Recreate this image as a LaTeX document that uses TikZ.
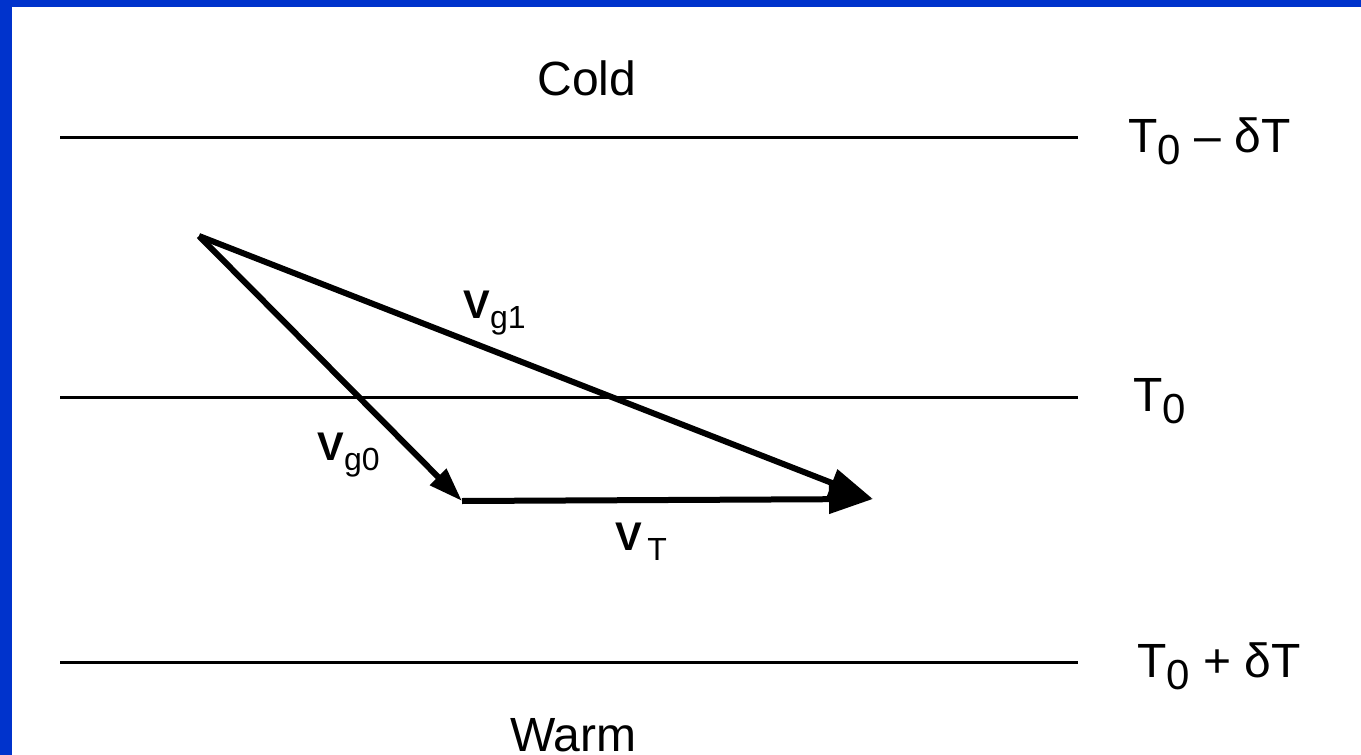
\documentclass[tikz,border=0pt]{standalone}
\usepackage{fontspec}
\setmainfont{Liberation Sans}
\usetikzlibrary{arrows.meta}
\definecolor{frameblue}{RGB}{0,51,204}
\begin{document}
\begin{tikzpicture}[x=0.5pt,y=-0.5pt,
  level/.style={line width=1.5pt},
  vec/.style={line width=3pt},
  lbl/.style={inner sep=0pt, anchor=base west, font=\fontsize{24}{28}\selectfont},
  vlbl/.style={inner sep=0pt, anchor=base west, font=\fontsize{20}{24}\selectfont}]
\useasboundingbox (0,0) rectangle (1361,755);
\fill[frameblue] (0,0) rectangle (1361,755);
\fill[white] (12,7) rectangle (1361,755);
% level lines
\coordinate (L1a) at (60,137); \coordinate (L1b) at (1078,137);
\coordinate (L2a) at (60,397); \coordinate (L2b) at (1078,397);
\coordinate (L3a) at (60,662); \coordinate (L3b) at (1078,662);
\draw[level] (L1a) -- (L1b);
\draw[level] (L2a) -- (L2b);
\draw[level] (L3a) -- (L3b);
% labels
\node[lbl] (cold) at (537,95) {Cold};
\node[lbl] (warm) at (510,751) {Warm};
\node[lbl] (tminus) at (1128,152) {T\raisebox{-6pt}{\fontsize{21}{21}\selectfont 0} – δT};
\node[lbl] (tzero) at (1133,411) {T\raisebox{-6pt}{\fontsize{21}{21}\selectfont 0}};
\node[lbl] (tplus) at (1137,677) {T\raisebox{-6pt}{\fontsize{21}{21}\selectfont 0} + δT};
% vectors
\coordinate (A) at (199,236);
\coordinate (B) at (462,501);
\coordinate (C) at (873,499);
\draw[vec, -{Triangle[length=17pt,width=11pt]}] (A) -- (B);
\draw[vec, -{Triangle[length=22pt,width=14pt]}] (B) -- (C);
\draw[vec, -{Triangle[length=22pt,width=14pt]}] (A) -- (C);
\node[vlbl] (vg1) at (463,318) {\textbf{V}\raisebox{-5pt}{\fontsize{16}{16}\selectfont g1}};
\node[vlbl] (vg0) at (317,460) {\textbf{V}\raisebox{-5pt}{\fontsize{16}{16}\selectfont g0}};
\node[vlbl] (vt) at (615,550) {\textbf{V}\raisebox{-5pt}{\fontsize{16}{16}\selectfont\,T}};
\end{tikzpicture}
\end{document}
